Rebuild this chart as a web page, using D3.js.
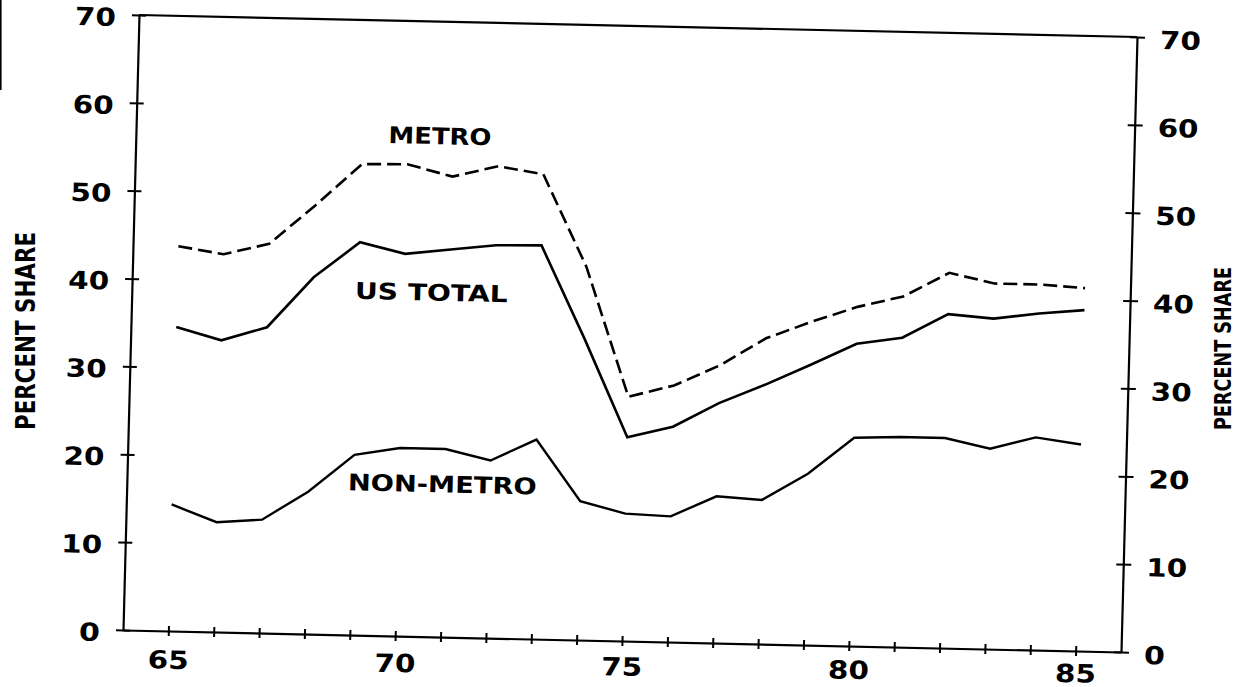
<!DOCTYPE html>
<html>
<head>
<meta charset="utf-8">
<script src="https://cdn.jsdelivr.net/npm/d3@7"></script>
<style>
  html, body { margin: 0; padding: 0; background: #fff; }
  svg { display: block; }
</style>
</head>
<body>
<svg id="chart" width="1256" height="687"></svg>
<script>
// ---- data ----
const years = [65, 66, 67, 68, 69, 70, 71, 72, 73, 74, 75, 76, 77, 78, 79, 80, 81, 82, 83, 84, 85];
const metro = [43.8, 43.0, 44.3, 48.8, 53.6, 53.7, 52.4, 53.7, 52.9, 42.5, 27.8, 29.2, 31.6, 34.8, 36.8, 38.6, 39.9, 42.7, 41.6, 41.6, 41.3];
const usTotal = [34.6, 33.2, 34.8, 40.6, 44.7, 43.5, 44.1, 44.7, 44.8, 34.3, 23.2, 24.5, 27.3, 29.5, 31.9, 34.4, 35.2, 38.0, 37.6, 38.3, 38.8];
const nonMetro = [14.4, 12.5, 12.9, 16.2, 20.5, 21.4, 21.4, 20.2, 22.7, 15.8, 14.5, 14.3, 16.7, 16.4, 19.5, 23.7, 23.9, 23.9, 22.8, 24.2, 23.5];
const yTicks = [0, 10, 20, 30, 40, 50, 60, 70];
const xLabelYears = [65, 70, 75, 80, 85];
const seriesLabels = ["METRO", "US TOTAL", "NON-METRO"];
const axisTitle = "PERCENT SHARE";

// ---- layout ----
const W = 999, H = 615;
const svg = d3.select("#chart");
const x = d3.scaleLinear().domain([64, 86]).range([0, W]);
const y = d3.scaleLinear().domain([0, 70]).range([H, 0]);

// the scanned page is slightly skewed: draw the plot in a tilted frame
const g = svg.append("g")
  .attr("transform", "matrix(0.999,0.02202,-0.02602,1,139,15)");
// the year labels are tilted a little less than the axis line
const gLab = svg.append("g")
  .attr("transform", "matrix(0.999,0.0149,-0.02602,1,139,15)");

const ink = "#000";
const tickFont = "'DejaVu Sans', sans-serif";
const titleFont = "'DejaVu Sans Condensed','Liberation Sans',Arial,sans-serif";

function styleTickText(sel, anchor) {
  sel.selectAll(".tick text")
    .attr("font-family", tickFont)
    .attr("font-weight", "bold")
    .attr("font-size", 25)
    .attr("fill", ink)
    .attr("text-anchor", anchor)
    .attr("lengthAdjust", "spacingAndGlyphs")
    .attr("textLength", function () { return this.textContent.length === 1 ? 21 : 41; });
}

// left axis
const leftAxis = g.append("g")
  .call(d3.axisLeft(y).tickValues(yTicks).tickSize(0).tickSizeOuter(0).tickFormat(d3.format("d")));
leftAxis.select(".domain").attr("stroke", ink).attr("stroke-width", 2.2);
leftAxis.selectAll(".tick line").attr("x1", -7).attr("x2", 7).attr("stroke", ink).attr("stroke-width", 2);
styleTickText(leftAxis, "end");
leftAxis.selectAll(".tick text").attr("x", -23).attr("dy", "0.44em");

// right axis
const rightAxis = g.append("g")
  .attr("transform", `translate(${W},0)`)
  .call(d3.axisRight(y).tickValues(yTicks).tickSize(0).tickSizeOuter(0).tickFormat(d3.format("d")));
rightAxis.select(".domain").attr("stroke", ink).attr("stroke-width", 2.2);
rightAxis.selectAll(".tick line").attr("x1", -7).attr("x2", 8).attr("stroke", ink).attr("stroke-width", 2);
styleTickText(rightAxis, "start");
rightAxis.selectAll(".tick text").attr("x", 23).attr("dy", "0.44em");

// bottom axis (line + year ticks)
const bottomAxis = g.append("g")
  .attr("transform", `translate(0,${H})`)
  .call(d3.axisBottom(x).tickValues(years).tickSize(0).tickSizeOuter(0).tickFormat(() => ""));
bottomAxis.select(".domain").attr("stroke", ink).attr("stroke-width", 2.2);
bottomAxis.selectAll(".tick line").attr("y1", -5).attr("y2", 5).attr("stroke", ink).attr("stroke-width", 2);

// bottom axis labels
const bottomLabels = gLab.append("g")
  .attr("transform", `translate(0,${H})`)
  .call(d3.axisBottom(x).tickValues(xLabelYears).tickSize(0).tickSizeOuter(0).tickFormat(d => String(d)));
bottomLabels.select(".domain").remove();
bottomLabels.selectAll(".tick line").remove();
styleTickText(bottomLabels, "middle");
bottomLabels.selectAll(".tick text").attr("y", 29).attr("dy", "0.36em");

// top border line
g.append("line")
  .attr("x1", x(64)).attr("x2", x(86))
  .attr("y1", y(70)).attr("y2", y(70))
  .attr("stroke", ink).attr("stroke-width", 2.2);

// ---- series ----
const line = d3.line().x((d, i) => x(years[i])).y(d => y(d));

g.append("path").datum(metro)
  .attr("d", line).attr("fill", "none").attr("stroke", ink)
  .attr("stroke-width", 2.6).attr("stroke-dasharray", "14,6");
g.append("path").datum(usTotal)
  .attr("d", line).attr("fill", "none").attr("stroke", ink)
  .attr("stroke-width", 2.6);
g.append("path").datum(nonMetro)
  .attr("d", line).attr("fill", "none").attr("stroke", ink)
  .attr("stroke-width", 2.4);

// ---- series labels ----
const labelSpecs = [
  { text: seriesLabels[0], yr: 70.7, val: 57.0, len: 103 },
  { text: seriesLabels[1], yr: 70.6, val: 39.2, len: 153 },
  { text: seriesLabels[2], yr: 70.95, val: 17.4, len: 189 }
];
g.selectAll("text.slabel").data(labelSpecs).enter().append("text")
  .attr("class", "slabel")
  .attr("x", d => x(d.yr)).attr("y", d => y(d.val))
  .attr("dy", "0.36em")
  .attr("text-anchor", "middle")
  .attr("font-family", tickFont).attr("font-weight", "bold").attr("font-size", 23)
  .attr("lengthAdjust", "spacingAndGlyphs").attr("textLength", d => d.len)
  .attr("fill", ink)
  .text(d => d.text);

// ---- axis titles (condensed bold) ----
svg.append("text")
  .attr("transform", "translate(35,331) rotate(-90)")
  .attr("text-anchor", "middle")
  .attr("font-family", titleFont)
  .attr("font-weight", "bold").attr("font-size", 26)
  .attr("lengthAdjust", "spacingAndGlyphs").attr("textLength", 198)
  .attr("fill", ink).text(axisTitle);
svg.append("text")
  .attr("transform", "translate(1231,348.5) rotate(-90)")
  .attr("text-anchor", "middle")
  .attr("font-family", titleFont)
  .attr("font-weight", "bold").attr("font-size", 22.5)
  .attr("lengthAdjust", "spacingAndGlyphs").attr("textLength", 163)
  .attr("fill", ink).text(axisTitle);

// scan edge mark at the far left
svg.append("line").attr("x1", 0.8).attr("x2", 0.8).attr("y1", 0).attr("y2", 90)
  .attr("stroke", ink).attr("stroke-width", 1.6);
</script>
</body>
</html>
